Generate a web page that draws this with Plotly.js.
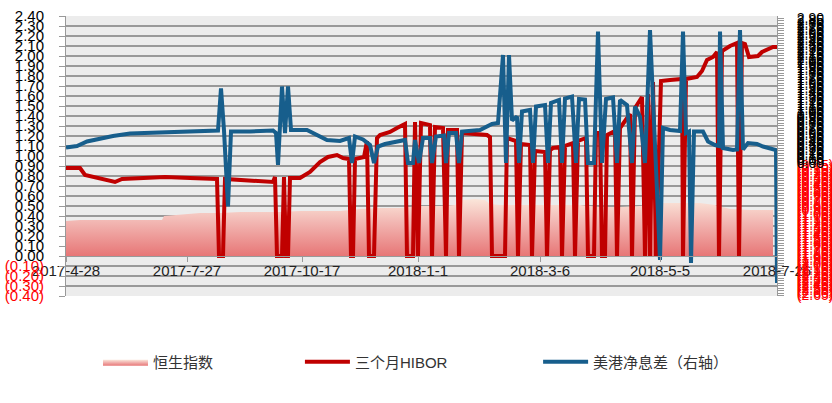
<!DOCTYPE html>
<html>
<head>
<meta charset="utf-8">
<script src="https://cdn.plot.ly/plotly-3.0.1.min.js"></script>
<style>html,body{margin:0;padding:0;background:#fff;}#chart{width:832px;height:403px;}</style>
</head>
<body>
<div id="chart"></div>
<script>
// x = trading-day index along the category axis
const tickIdx = [0, 60.5, 118, 176, 237, 297, 355.5];
const tickLabels = ["2017-4-28", "2017-7-27", "2017-10-17", "2018-1-1", "2018-3-6", "2018-5-5", "2018-7-26"];

// 恒生指数 (area, drawn on left scale)
const hsiX = [0,7,17,27,37,48,49,57,67,77,87,97,107,117,127,137,147,157,167,177,187,194.5,198.5,204.5,209.5,212,217,227,237,247,257,267,277,287,297,307,317,324.5,332,342,353.5];
const hsiY = [0.35,0.36,0.36,0.36,0.36,0.36,0.40,0.41,0.43,0.43,0.44,0.44,0.44,0.45,0.45,0.45,0.47,0.48,0.48,0.50,0.50,0.51,0.56,0.57,0.56,0.52,0.51,0.51,0.51,0.51,0.51,0.49,0.49,0.50,0.53,0.53,0.53,0.51,0.47,0.46,0.46];

// 三个月HIBOR (left axis)
const hiborX = [0,7,9.5,17,24.5,28,39.5,49.5,62,75.5,76.5,78.5,79.5,92,103.5,104.5,105.5,108,109,110,111,112,117,122,127,131,135.5,138.5,141.5,142.5,143.5,144.5,149,150.5,151.5,154,155.5,157,162,165.5,169.5,170.5,173.5,174.5,176,177.5,182,183,184.5,188.5,190,191,195.5,196.5,198,210.5,212,213,219.5,220.5,223.5,225,226,227.5,232,233,234.5,239.5,240.5,242,243.5,247,248,249.5,253.5,254.5,256,260,261,264,265,267,268,269.5,270.5,274.5,275.5,277,282,283,284.5,288,289.5,291,292,293.5,295,297.5,302,308,308.5,310,315.5,318,320.5,323.5,325.5,326.5,328,332,335.5,336.5,338,339.5,341.5,346,348,350,353.5,355.5];
const hiborY = [0.88,0.88,0.81,0.78,0.74,0.77,0.78,0.79,0.78,0.77,0,0,0.77,0.75,0.74,0.79,0,0,0.79,0,0,0.78,0.78,0.84,0.94,0.99,1.01,0.98,0.97,0,0,0.97,0.99,1.15,0,0,1.18,1.21,1.24,1.28,1.32,0,0,1.34,0,1.33,1.31,0,1.29,1.28,0,1.26,1.26,0,1.23,1.21,1.19,0,0,1.18,1.16,1.15,0,1.12,1.11,0,1.05,1.04,0,1.06,1.08,1.09,0,1.10,1.13,0,1.15,1.18,0,0,1.23,1.23,0,0,1.21,1.25,0,1.28,1.42,0,1.48,1.59,0,1.62,0,1.74,0,1.75,1.76,1.77,0,1.77,1.79,1.85,1.96,1.99,2.04,0,2.05,2.10,2.13,0,2.13,2.12,1.99,2.00,2.04,2.06,2.09,2.09];

// 美港净息差 (right axis)
const spreadX = [0,5.5,10.5,17,23.5,32,47,63.5,76,77.5,79,81,82.5,92,103.5,105,106,108,109.5,111,112.5,120.5,125.5,130.5,137,140.5,141.5,143,144.5,148.5,152,154,156,159.5,167,169.5,171,173.5,174.5,176.5,178.5,182,183,185,189,190,191.5,195,196.5,198,207,210.5,213,216,218.5,220,221.5,223,225.5,226.5,228,232,233.5,235,239.5,241,242.5,246.5,248,249.5,253,255,256.5,259.5,261,264,266,268,270,273.5,275.5,277,280.5,283,284.5,287,289.5,292,294,297,298.5,302,307,308.5,310,311.5,312.5,314,318.5,321,324.5,326.5,327,328.5,333.5,335.5,337,338.5,341,345.5,348.5,353.5,355,355.5];
const spreadY = [0.31,0.34,0.43,0.49,0.54,0.59,0.61,0.63,0.65,1.49,0.65,-0.87,0.63,0.63,0.65,0.60,-0.04,1.53,0.60,1.53,0.66,0.66,0.56,0.46,0.44,0.48,0.50,0,0.53,0.47,0.36,0,0.33,0.38,0.43,0.46,0,0,0.46,0,0.50,0.50,0,0.53,0.55,0,0.60,0.60,0,0.63,0.66,0.73,0.78,0.80,2.16,0,2.16,0.85,0.93,0,1.03,1.06,0,1.13,1.16,0,1.20,1.26,0,1.29,1.33,0,1.28,1.27,0,0,2.63,0,1.28,1.31,0,1.26,1.16,0,1.13,0.93,0,2.66,0.80,-1.94,0.70,0.66,0.64,2.63,0.60,0.63,-2.0,0.63,0.63,0.43,0.36,0.34,2.63,0.30,0.26,0.27,2.66,0.27,0.40,0.38,0.33,0.26,0.26,-2.40];

function fmt(v){
  const a = Math.abs(v).toFixed(2);
  return v < -1e-9 ? '<span style="color:#ff0000">(' + a + ')</span>' : a;
}
const leftVals = [], leftText = [];
for (let i = -4; i <= 24; i++) { const v = i / 10; leftVals.push(v); leftText.push(fmt(v)); }
const rightVals = [], rightText = [];
for (let i = -53; i <= 58; i++) { const v = i * 0.05; rightVals.push(v); rightText.push(fmt(v)); }

const baseFont = "Liberation Sans, Arial, Noto Sans CJK SC, sans-serif";
const traces = [
  {x: hsiX, y: hsiY, type: 'scatter', mode: 'lines', name: '恒生指数', fill: 'tozeroy',
   line: {width: 0, color: 'rgba(240,170,160,0.9)'},
   fillgradient: {type: 'vertical', start: 0, stop: 0.56,
     colorscale: [[0, 'rgb(231,118,118)'], [0.6, 'rgb(242,182,178)'], [1, 'rgb(250,228,216)']]},
   legend: 'legend', hoverinfo: 'skip'},
  {x: hiborX, y: hiborY, type: 'scatter', mode: 'lines', name: '三个月HIBOR',
   line: {color: '#c00000', width: 4}, legend: 'legend2'},
  {x: spreadX, y: spreadY, type: 'scatter', mode: 'lines', name: '美港净息差（右轴）', yaxis: 'y2',
   line: {color: '#175e8c', width: 4}, legend: 'legend3'}
];

const legendCommon = {orientation: 'h', yanchor: 'middle', y: -0.236, xanchor: 'left',
  font: {family: baseFont, size: 15, color: '#333'}, bgcolor: 'rgba(0,0,0,0)', itemwidth: 45};

const layout = {
  width: 832, height: 403,
  margin: {l: 66, r: 55, t: 16, b: 107},
  paper_bgcolor: '#ffffff', plot_bgcolor: '#ececec',
  font: {family: baseFont, size: 15, color: '#000'},
  showlegend: true,
  xaxis: {range: [0, 355.5], tickvals: tickIdx, ticktext: tickLabels,
    anchor: 'free', position: 40/280, showgrid: false, zeroline: false,
    showline: true, linecolor: '#999999', ticks: 'outside', ticklen: 5, tickcolor: '#999999',
    ticklabelstandoff: -4, tickfont: {size: 15, color: '#222'}, fixedrange: true},
  yaxis: {range: [-0.40, 2.40], tickvals: leftVals, ticktext: leftText,
    showgrid: true, gridcolor: '#999999', gridwidth: 1.2, zeroline: false,
    showline: true, linecolor: '#999999', ticks: 'outside', ticklen: 6, tickcolor: '#999999',
    ticklabelstandoff: 12, tickfont: {size: 15, color: '#000'}},
  yaxis2: {range: [-2.66, 2.94], overlaying: 'y', side: 'right', tickvals: rightVals, ticktext: rightText,
    showgrid: false, zeroline: false, showline: true, linecolor: '#999999',
    ticks: 'outside', ticklen: 6, tickcolor: '#999999', ticklabelstandoff: 10,
    tickfont: {size: 14, color: '#000'}},
  legend: Object.assign({}, legendCommon, {x: 0.045}),
  legend2: Object.assign({}, legendCommon, {x: 0.329}),
  legend3: Object.assign({}, legendCommon, {x: 0.664})
};

Plotly.newPlot('chart', traces, layout, {displayModeBar: false, staticPlot: true});
</script>
</body>
</html>
